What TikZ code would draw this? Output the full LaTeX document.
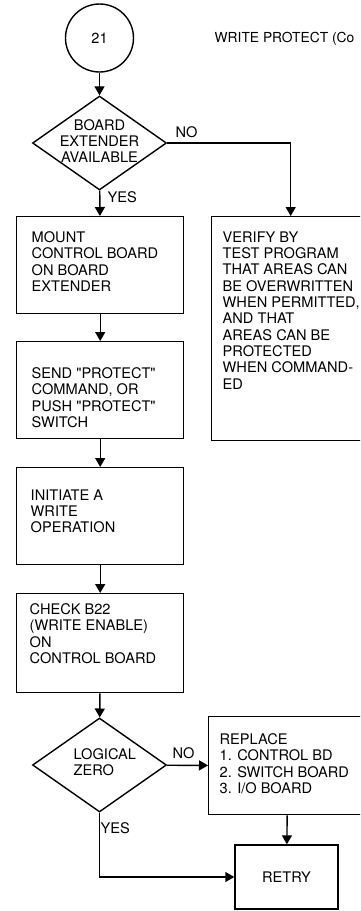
\documentclass[tikz,border=0pt]{standalone}
\usepackage{fontspec}
\setmainfont{TeX Gyre Heros}[Ligatures=TeXOff]
\usetikzlibrary{positioning,arrows.meta,calc,shapes.geometric}

\begin{document}
\begin{tikzpicture}[
  x=1pt, y=-1pt,
  font=\fontsize{14.6}{16.3}\selectfont,
  line width=1.4pt,
  term/.style={circle, draw, minimum size=68pt, inner sep=0pt},
  decision/.style={diamond, draw, inner sep=0pt, minimum width=134pt, minimum height=94pt},
  stepbox/.style={draw, anchor=north west, inner sep=0pt, minimum width=167pt},
  boxtxt/.style={anchor=north west, inner sep=0pt, align=left},
  dtxt/.style={inner sep=0pt, align=center},
  tag/.style={anchor=base west, inner sep=0pt},
  ar/.style={-{Triangle[length=9pt, width=10pt]}}
]
\useasboundingbox (0,0) rectangle (360,911);
\clip (0,0) rectangle (360,911);

\node[term] (c21) at (99.5,38) {21};
\node[anchor=base west, inner sep=0pt, font=\fontsize{13.8}{16}\selectfont] (title) at (214,42) {WRITE PROTECT (Co};

\node[decision] (d1) at (99.5,143) {};
\node[dtxt] (d1t) at (99.5,141) {BOARD\\EXTENDER\\AVAILABLE};
\node[tag] (no1) at (175,137) {NO};
\node[tag] (yes1) at (107,202) {YES};

% left column
\node[stepbox, minimum height=97pt] (mount) at (16,216) {};
\node[boxtxt] (mountT) at ($(mount.north west)+(15,15)$) {MOUNT\\CONTROL BOARD\\ON BOARD\\EXTENDER};
\node[stepbox, minimum height=97pt] (send) at (16,341) {};
\node[boxtxt] (sendT) at ($(send.north west)+(15,26)$) {SEND "PROTECT"\\COMMAND, OR\\PUSH "PROTECT"\\SWITCH};
\node[stepbox, minimum height=97pt] (initiate) at (16,467) {};
\node[boxtxt] (initiateT) at ($(initiate.north west)+(14,22)$) {INITIATE A\\WRITE\\OPERATION};
\node[stepbox, minimum height=99pt] (check) at (16,593) {};
\node[boxtxt] (checkT) at ($(check.north west)+(13,10)$) {CHECK B22\\(WRITE ENABLE)\\ON\\CONTROL BOARD};

% right column
\node[stepbox, minimum width=158pt, minimum height=224pt] (verify) at (211,216) {};
\node[boxtxt] (verifyT) at ($(verify.north west)+(11,15)$) {VERIFY BY\\TEST PROGRAM\\THAT AREAS CAN\\BE OVERWRITTEN\\WHEN PERMITTED,\\AND THAT\\AREAS CAN BE\\PROTECTED\\WHEN COMMAND-\\ED};

\node[decision] (d2) at (99.5,765) {};
\node[dtxt, align=left, anchor=west] (d2t) at (73,762) {LOGICAL\\ZERO};
\node[tag] (no2) at (172,758) {NO};
\node[tag] (yes2) at (100,833) {YES};

\node[stepbox, minimum width=158pt, minimum height=98pt] (replace) at (208,716) {};
\node[boxtxt] (replaceT) at ($(replace.north west)+(11,17)$) {REPLACE\\1. CONTROL BD\\2. SWITCH BOARD\\3. I/O BOARD};
\node[draw, minimum width=103pt, minimum height=64pt, inner sep=0pt] (retry) at (286.5,877) {RETRY};

\draw[ar] (c21) -- (d1);
\draw[ar] (d1.east) -| (verify.north);
\draw[ar] (d1) -- (mount);
\draw[ar] (mount) -- (send);
\draw[ar] (send) -- (initiate);
\draw[ar] (initiate) -- (check);
\draw[ar] (check) -- (d2);
\draw[ar] (d2) -- (replace);
\draw[ar] (replace) -- (retry);
\draw[ar] (d2.south) |- (retry);
\end{tikzpicture}
\end{document}
